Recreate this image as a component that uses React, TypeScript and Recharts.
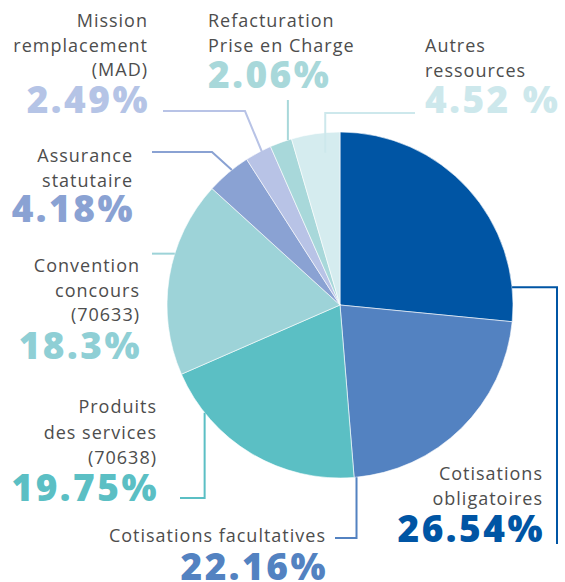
import React from 'react';
import { PieChart, Pie, Cell } from 'recharts';

const categories = [
  'Cotisations obligatoires',
  'Cotisations facultatives',
  'Produits des services (70638)',
  'Convention concours (70633)',
  'Assurance statutaire',
  'Mission remplacement (MAD)',
  'Refacturation Prise en Charge',
  'Autres ressources',
];
const shares = [26.54, 22.16, 19.75, 18.3, 4.18, 2.49, 2.06, 4.52];
const labelLines = [
  ['Cotisations', 'obligatoires'],
  ['Cotisations facultatives'],
  ['Produits', 'des services', '(70638)'],
  ['Convention', 'concours', '(70633)'],
  ['Assurance', 'statutaire'],
  ['Mission', 'remplacement', '(MAD)'],
  ['Refacturation', 'Prise en Charge'],
  ['Autres', 'ressources'],
];
const pctLabels = ['26.54%', '22.16%', '19.75%', '18.3%', '4.18%', '2.49%', '2.06%', '4.52 %'];
const sliceColors = ['#0055A4', '#5382C1', '#5BBFC4', '#9DD3D8', '#8AA2D3', '#B8C3E6', '#A8D8DA', '#D5ECEF'];
const pctColors = ['#0055A4', '#5382C1', '#5BBFC4', '#8FCFD5', '#8AA2D3', '#B5C4E6', '#A8D8DA', '#CDE8EC'];
const lineColors = ['#0055A4', '#5382C1', '#5BBFC4', '#9DD3D8', '#8AA2D3', '#B8C3E6', '#A8D8DA', '#CDE8EC'];

type Step = { t: 'h'; x: number } | { t: 'v'; y: number } | { t: 'p'; x: number; y: number };
type Lay = {
  frac: number;
  rOff: number;
  steps: Step[];
  anchor: 'start' | 'end';
  x: number;
  ys: number[];
  pctY: number;
};

const layout: Lay[] = [
  { frac: 0.88, rOff: 0, steps: [{ t: 'h', x: 557 }, { t: 'v', y: 544 }], anchor: 'end', x: 543, ys: [480, 505], pctY: 542 },
  { frac: 0.99, rOff: 0, steps: [{ t: 'v', y: 538 }, { t: 'h', x: 335 }], anchor: 'end', x: 326, ys: [542], pctY: 580 },
  { frac: 0.79, rOff: 0, steps: [{ t: 'v', y: 498 }, { t: 'h', x: 180 }], anchor: 'end', x: 157, ys: [413, 439, 464], pctY: 501 },
  { frac: 0.62, rOff: 0, steps: [{ t: 'h', x: 152 }], anchor: 'end', x: 140, ys: [272, 297, 321], pctY: 359 },
  { frac: 0.6, rOff: 0, steps: [{ t: 'p', x: 212, y: 152 }, { t: 'h', x: 152 }], anchor: 'end', x: 133, ys: [162, 187], pctY: 222 },
  { frac: 0.63, rOff: -1, steps: [{ t: 'p', x: 245, y: 111 }, { t: 'h', x: 163 }], anchor: 'end', x: 148, ys: [27, 52, 76], pctY: 113 },
  { frac: 0.83, rOff: 0, steps: [{ t: 'v', y: 100 }], anchor: 'start', x: 208, ys: [27, 52], pctY: 88 },
  { frac: 0.66, rOff: -20, steps: [{ t: 'v', y: 113 }, { t: 'h', x: 415 }], anchor: 'start', x: 425, ys: [52, 77], pctY: 113 },
];

const data = categories.map((name, i) => ({ name, value: shares[i] }));

const RADIAN = Math.PI / 180;

const renderLabel = (props: any) => {
  const { cx, cy, outerRadius, index, startAngle, endAngle, midAngle } = props;
  const L = layout[index];
  const a0 = typeof startAngle === 'number' ? startAngle : midAngle;
  const a1 = typeof endAngle === 'number' ? endAngle : midAngle;
  const ang = a0 + L.frac * (a1 - a0);
  const r = outerRadius + L.rOff;
  const sx = cx + r * Math.cos(-ang * RADIAN);
  const sy = cy + r * Math.sin(-ang * RADIAN);
  const pts: [number, number][] = [[sx, sy]];
  let px = sx;
  let py = sy;
  L.steps.forEach((s) => {
    if (s.t === 'h') px = s.x;
    else if (s.t === 'v') py = s.y;
    else {
      px = s.x;
      py = s.y;
    }
    pts.push([px, py]);
  });
  const pctX = L.anchor === 'end' ? L.x + 2 : L.x;
  return (
    <g key={`lbl-${index}`}>
      <polyline
        points={pts.map((p) => p.join(',')).join(' ')}
        fill="none"
        stroke={lineColors[index]}
        strokeWidth={2}
      />
      {labelLines[index].map((t, j) => (
        <text
          key={j}
          x={L.x}
          y={L.ys[j]}
          textAnchor={L.anchor}
          fill="#4D4D4D"
          fontFamily="'Open Sans', sans-serif"
          fontSize={18}
          letterSpacing={1}
        >
          {t}
        </text>
      ))}
      <text
        x={pctX}
        y={L.pctY}
        textAnchor={L.anchor}
        fill={pctColors[index]}
        fontFamily="'Open Sans', sans-serif"
        fontWeight={800}
        fontSize={37}
        letterSpacing={2.5}
      >
        {pctLabels[index]}
      </text>
    </g>
  );
};

export default function App() {
  return (
    <div style={{ position: 'absolute', left: 0, top: 0, width: 565, height: 582, background: '#fff' }}>
      <PieChart width={565} height={582} margin={{ top: 0, right: 0, bottom: 0, left: 0 }}>
        <Pie
          data={data}
          dataKey="value"
          nameKey="name"
          cx={340}
          cy={305}
          outerRadius={173}
          startAngle={90}
          endAngle={-270}
          stroke="#ffffff"
          strokeWidth={0.6}
          isAnimationActive={false}
          labelLine={false}
          label={renderLabel}
        >
          {data.map((d, i) => (
            <Cell key={d.name} fill={sliceColors[i]} />
          ))}
        </Pie>
      </PieChart>
    </div>
  );
}
